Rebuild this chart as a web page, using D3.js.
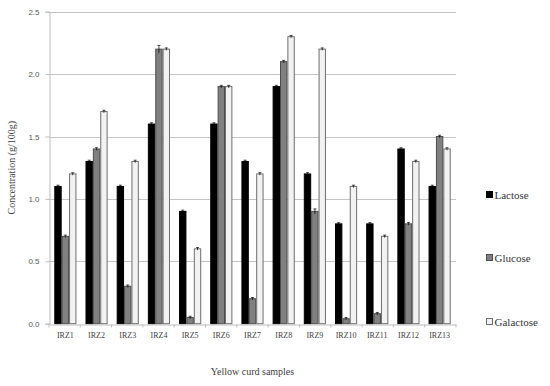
<!DOCTYPE html>
<html>
<head>
<meta charset="utf-8">
<script src="https://cdn.jsdelivr.net/npm/d3@7"></script>
<style>
  body { margin: 0; background: #fff; }
  svg { display: block; }
</style>
</head>
<body>
<div id="chart"></div>
<script>
// ---- data ----
var samples = ["IRZ1","IRZ2","IRZ3","IRZ4","IRZ5","IRZ6","IRZ7","IRZ8","IRZ9","IRZ10","IRZ11","IRZ12","IRZ13"];
var seriesNames = ["Lactose","Glucose","Galactose"];
var lactose   = [1.1, 1.3, 1.1, 1.6, 0.9, 1.6, 1.3, 1.9, 1.2, 0.8, 0.8, 1.4, 1.1];
var glucose   = [0.7, 1.4, 0.3, 2.2, 0.05, 1.9, 0.2, 2.1, 0.9, 0.04, 0.08, 0.8, 1.5];
var galactose = [1.2, 1.7, 1.3, 2.2, 0.6, 1.9, 1.2, 2.3, 2.2, 1.1, 0.7, 1.3, 1.4];
var errLactose   = [0.01, 0.01, 0.01, 0.01, 0.01, 0.01, 0.01, 0.01, 0.01, 0.01, 0.01, 0.01, 0.01];
var errGlucose   = [0.01, 0.01, 0.01, 0.03, 0.01, 0.01, 0.01, 0.01, 0.02, 0.01, 0.01, 0.01, 0.01];
var errGalactose = [0.01, 0.01, 0.01, 0.01, 0.01, 0.01, 0.01, 0.01, 0.01, 0.01, 0.01, 0.01, 0.01];
var yTicks = [0, 0.5, 1.0, 1.5, 2.0, 2.5];

var fills   = ["#000000", "#808080", "#f2f2f2"];
var strokes = ["#000000", "#4d4d4d", "#6e6e6e"];
var serif = "'Liberation Serif', 'Times New Roman', 'DejaVu Serif', serif";

var width = 550, height = 386;
var margin = {top: 11.7, left: 49, right: 94, bottom: 62.3};

var svg = d3.select("#chart").append("svg")
    .attr("width", width)
    .attr("height", height);

var x = d3.scaleBand()
    .domain(samples)
    .range([margin.left, width - margin.right])
    .paddingInner(0.29)
    .paddingOuter(0.17);

var xs = d3.scaleBand()
    .domain(seriesNames)
    .range([0, x.bandwidth()]);

var y = d3.scaleLinear()
    .domain([0, 2.5])
    .range([height - margin.bottom, margin.top]);

// gridlines
svg.append("g")
  .selectAll("line")
  .data(yTicks.slice(1))
  .enter()
  .append("line")
    .attr("x1", margin.left)
    .attr("x2", width - margin.right)
    .attr("y1", function(d){ return Math.round(y(d)) + 0.5; })
    .attr("y2", function(d){ return Math.round(y(d)) + 0.5; })
    .attr("stroke", "#c4c4c4")
    .attr("stroke-width", 1);

// y axis
var yAxis = svg.append("g")
    .attr("transform", "translate(" + (margin.left + 0.5) + ",0)")
    .call(d3.axisLeft(y).tickValues(yTicks).tickFormat(d3.format(".1f")).tickSize(4).tickPadding(6));
yAxis.select(".domain").attr("stroke", "#bdbdbd");
yAxis.selectAll(".tick line").attr("stroke", "#bdbdbd");
yAxis.selectAll("text")
    .attr("fill", "#595959")
    .style("font-family", "'Liberation Sans', sans-serif")
    .style("font-size", "8px");

// bars
var data = samples.map(function(s, i){
  return {
    sample: s,
    vals: [
      {key: seriesNames[0], v: lactose[i],   e: errLactose[i],   k: 0},
      {key: seriesNames[1], v: glucose[i],   e: errGlucose[i],   k: 1},
      {key: seriesNames[2], v: galactose[i], e: errGalactose[i], k: 2}
    ]
  };
});

var grp = svg.selectAll(".grp")
  .data(data)
  .enter()
  .append("g")
    .attr("class", "grp")
    .attr("transform", function(d){ return "translate(" + x(d.sample) + ",0)"; });

grp.selectAll("rect")
  .data(function(d){ return d.vals; })
  .enter()
  .append("rect")
    .attr("x", function(d){ return xs(d.key) + 0.5; })
    .attr("y", function(d){ return y(d.v); })
    .attr("width", xs.bandwidth() - 1)
    .attr("height", function(d){ return y(0) - y(d.v); })
    .attr("fill", function(d){ return fills[d.k]; })
    .attr("stroke", function(d){ return strokes[d.k]; })
    .attr("stroke-width", 1);

// error bars
var eb = grp.selectAll(".err")
  .data(function(d){ return d.vals; })
  .enter()
  .append("g")
    .attr("class", "err")
    .attr("stroke", "#000")
    .attr("stroke-width", 0.7);
eb.append("line")
    .attr("x1", function(d){ return xs(d.key) + xs.bandwidth() / 2; })
    .attr("x2", function(d){ return xs(d.key) + xs.bandwidth() / 2; })
    .attr("y1", function(d){ return y(d.v - d.e); })
    .attr("y2", function(d){ return y(d.v + d.e); });
eb.append("line")
    .attr("x1", function(d){ return xs(d.key) + xs.bandwidth() / 2 - 1.5; })
    .attr("x2", function(d){ return xs(d.key) + xs.bandwidth() / 2 + 1.5; })
    .attr("y1", function(d){ return y(d.v + d.e); })
    .attr("y2", function(d){ return y(d.v + d.e); });

// x axis
var xAxis = svg.append("g")
    .attr("transform", "translate(0," + (Math.round(y(0)) + 0.5) + ")")
    .call(d3.axisBottom(x).tickSize(0).tickPadding(8));
xAxis.select(".domain").attr("stroke", "#bdbdbd");
xAxis.selectAll("text")
    .attr("fill", "#404040")
    .style("font-family", serif)
    .style("font-size", "8px");
// tick marks between categories
xAxis.selectAll(".sep")
  .data(d3.range(samples.length + 1))
  .enter()
  .append("line")
    .attr("class", "sep")
    .attr("x1", function(i){ return margin.left + i * (width - margin.left - margin.right) / samples.length; })
    .attr("x2", function(i){ return margin.left + i * (width - margin.left - margin.right) / samples.length; })
    .attr("y1", 0)
    .attr("y2", 3)
    .attr("stroke", "#bdbdbd");

// axis titles
svg.append("text")
    .attr("transform", "translate(15," + ((margin.top + height - margin.bottom) / 2) + ") rotate(-90)")
    .attr("text-anchor", "middle")
    .attr("fill", "#404040")
    .style("font-family", serif)
    .style("font-size", "10px")
    .text("Concentration (g/100g)");

svg.append("text")
    .attr("x", (margin.left + width - margin.right) / 2)
    .attr("y", 375)
    .attr("text-anchor", "middle")
    .attr("fill", "#404040")
    .style("font-family", serif)
    .style("font-size", "10px")
    .text("Yellow curd samples");

// legend
var legendY = [195, 258, 322];
var leg = svg.selectAll(".leg")
  .data(seriesNames)
  .enter()
  .append("g")
    .attr("class", "leg")
    .attr("transform", function(d, i){ return "translate(486," + legendY[i] + ")"; });
leg.append("rect")
    .attr("x", 0.5)
    .attr("y", -3.5)
    .attr("width", 6)
    .attr("height", 6)
    .attr("fill", function(d, i){ return fills[i]; })
    .attr("stroke", function(d, i){ return strokes[i]; });
leg.append("text")
    .attr("x", 8.5)
    .attr("y", 3.5)
    .attr("fill", "#333")
    .style("font-family", serif)
    .style("font-size", "11px")
    .text(function(d){ return d; });
</script>
</body>
</html>
